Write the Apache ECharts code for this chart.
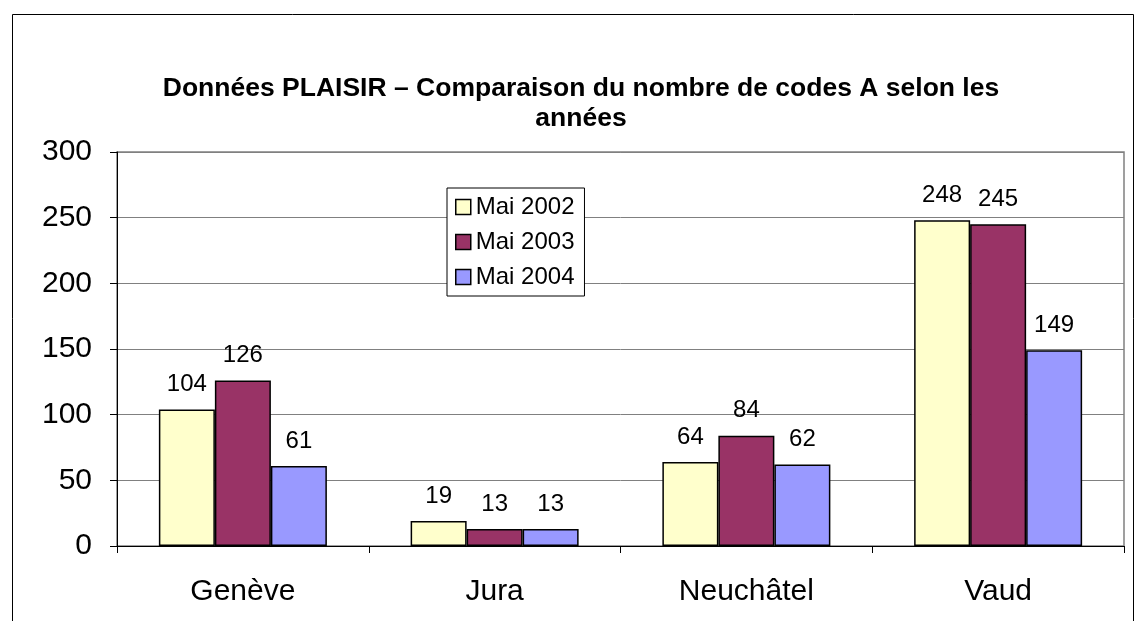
<!DOCTYPE html>
<html><head><meta charset="utf-8">
<script src="https://cdn.jsdelivr.net/npm/echarts@6/dist/echarts.min.js"></script>
<style>html,body{margin:0;padding:0;background:#fff}#c{width:1140px;height:621px}</style>
</head><body><div id="c"></div>
<script>
const categories = ['Genève', 'Jura', 'Neuchâtel', 'Vaud'];
const seriesNames = ['Mai 2002', 'Mai 2003', 'Mai 2004'];
const mai2002 = [104, 19, 64, 248];
const mai2003 = [126, 13, 84, 245];
const mai2004 = [61, 13, 62, 149];
const colors = ['#FFFFCC', '#993366', '#9999FF'];
const titleText = 'Données PLAISIR – Comparaison du nombre de codes A selon les\nannées';

const FONT = '"Liberation Sans", Arial, sans-serif';
const chart = echarts.init(document.getElementById('c'), null, {renderer: 'canvas'});
const dataSets = [mai2002, mai2003, mai2004];
chart.setOption({
  animation: false,
  backgroundColor: '#fff',
  graphic: [{type: 'rect', left: 10, top: 12, shape: {width: 1121, height: 700},
    style: {fill: 'none', stroke: '#000', lineWidth: 1}, silent: true, z: -1}],
  title: {
    text: titleText, left: 576, top: 69, textAlign: 'center',
    textStyle: {fontFamily: FONT, fontSize: 26.5, fontWeight: 'bold', color: '#000', lineHeight: 30}
  },
  legend: {
    orient: 'vertical', left: 447, top: 188,
    data: seriesNames, icon: 'rect',
    itemWidth: 15, itemHeight: 15, itemGap: 11,
    padding: [7, 10, 7, 8],
    borderColor: '#000', borderWidth: 1,
    backgroundColor: '#fff',
    itemStyle: {borderColor: '#000', borderWidth: 1.5},
    textStyle: {fontFamily: FONT, fontSize: 24, color: '#000'}
  },
  grid: {left: 117, right: 16, top: 152, bottom: 75, show: true, borderColor: '#808080', borderWidth: 1.5},
  xAxis: {
    type: 'category', data: categories,
    axisLine: {lineStyle: {color: '#000', width: 1}},
    axisTick: {show: true, length: 7, lineStyle: {color: '#000'}},
    axisLabel: {fontFamily: FONT, fontSize: 30, color: '#000', margin: 31}
  },
  yAxis: {
    type: 'value', min: 0, max: 300, interval: 50,
    axisLine: {show: true, lineStyle: {color: '#000', width: 1}},
    axisTick: {show: true, length: 7, lineStyle: {color: '#000'}},
    splitLine: {lineStyle: {color: '#808080', width: 1}},
    axisLabel: {fontFamily: FONT, fontSize: 30, color: '#000', margin: 25}
  },
  series: seriesNames.map((n, i) => ({
    name: n, type: 'bar', data: dataSets[i],
    barWidth: 56, barGap: '0%',
    itemStyle: {color: colors[i], borderColor: '#000', borderWidth: 1.5},
    label: {show: true, position: 'top', distance: 13, fontFamily: FONT, fontSize: 24, color: '#000'}
  }))
});
</script></body></html>
